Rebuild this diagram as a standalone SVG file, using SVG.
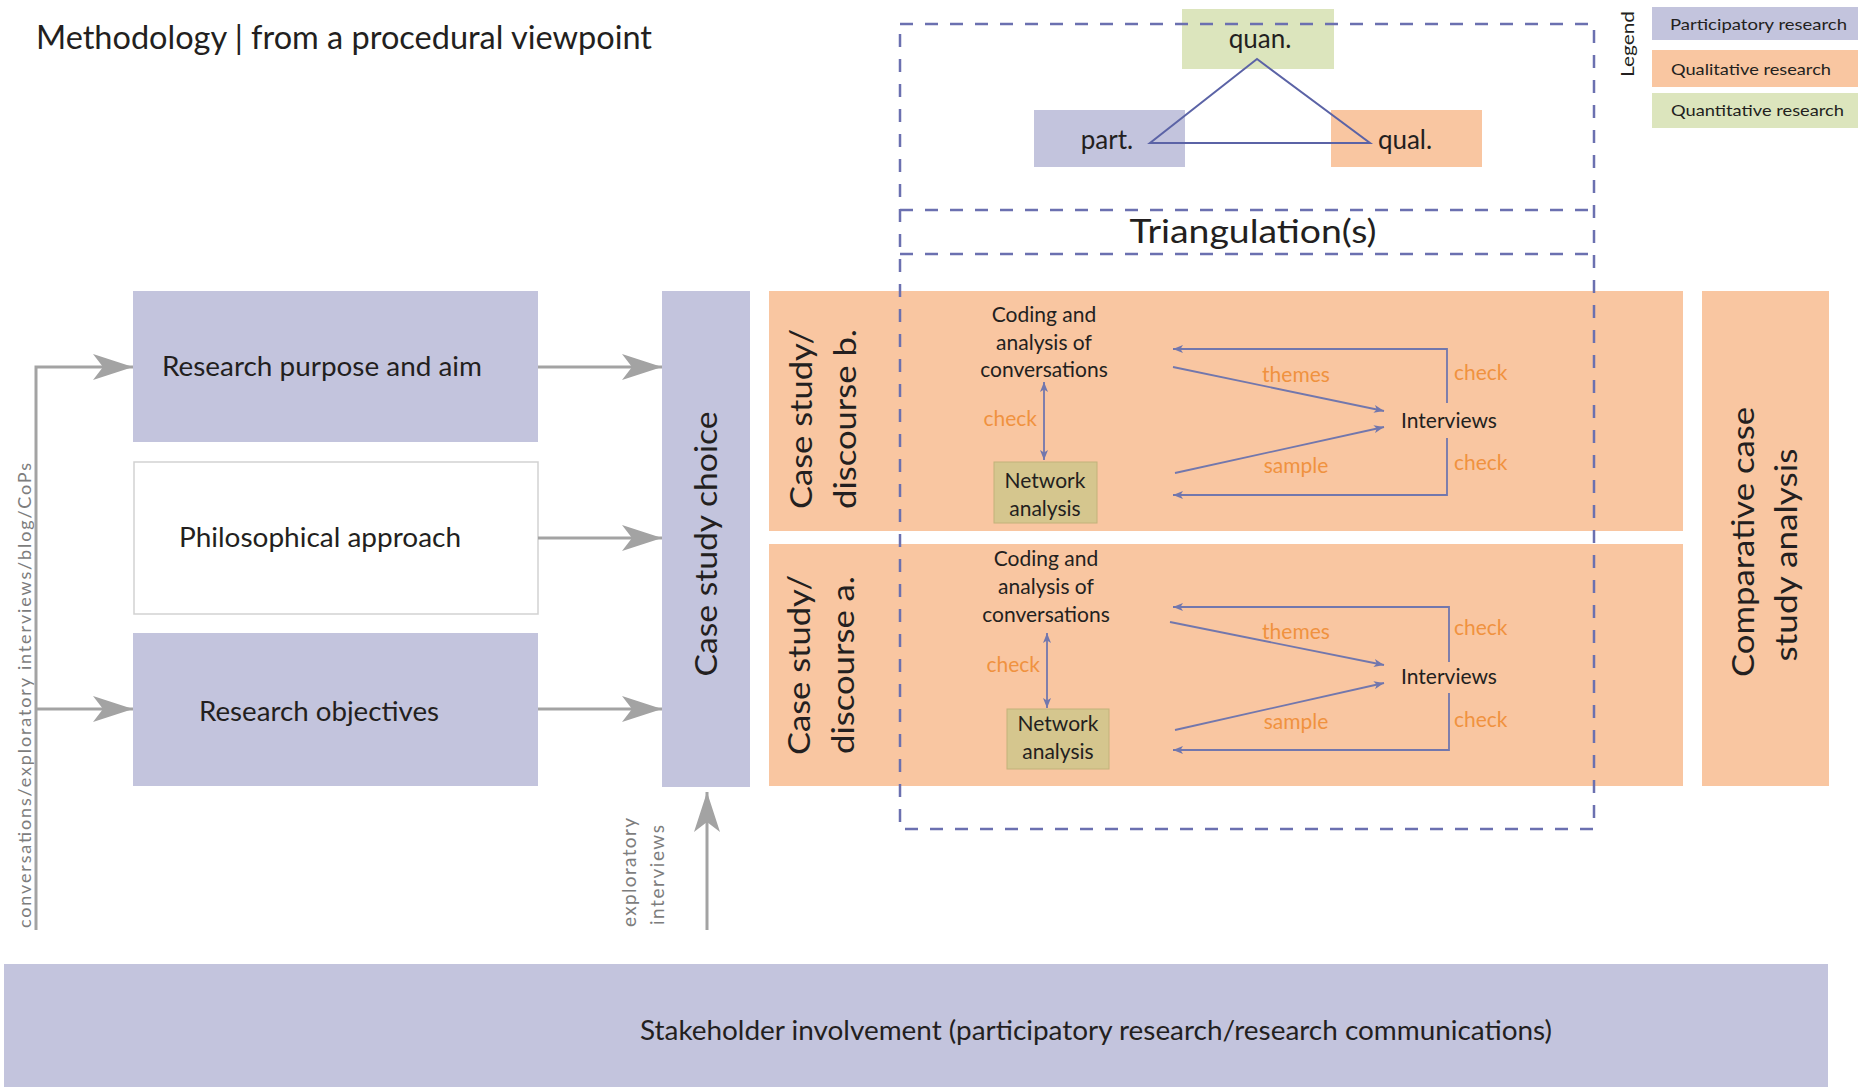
<svg xmlns="http://www.w3.org/2000/svg" width="1861" height="1087" viewBox="0 0 1861 1087">
<style>
text{font-family:Lato,"Open Sans","Liberation Sans",sans-serif;fill:#231f20}
.lav{fill:#c3c4dd}
.pch{fill:#f9c6a1}
.grn{fill:#dce5bd}
.t27{font-size:27px}
.t30{font-size:30px}
.t21{font-size:21px}
.or{fill:#f0923f;font-size:21px}
.gray{stroke:#a3a3a3;stroke-width:3;fill:none}
.blu{stroke:#7277ad;stroke-width:1.8;fill:none}
.dash{stroke:#6b70b0;stroke-width:2.5;fill:none;stroke-dasharray:13 12}
.mid{text-anchor:middle}
</style>
<defs>
<marker id="ga" viewBox="0 0 40 26" refX="40" refY="13" markerWidth="40" markerHeight="26" markerUnits="userSpaceOnUse" orient="auto">
<path d="M0,0 L40,13 L0,26 L10,13 Z" fill="#a3a3a3"/>
</marker>
<marker id="ba" viewBox="0 0 10 8" refX="10" refY="4" markerWidth="11" markerHeight="8" markerUnits="userSpaceOnUse" orient="auto-start-reverse">
<path d="M0,0 L10,4 L0,8 L2.5,4 Z" fill="#7277ad"/>
</marker>
</defs>
<rect width="1861" height="1087" fill="#ffffff"/>

<text x="36" y="49" style="font-size:32px" textLength="616" lengthAdjust="spacingAndGlyphs">Methodology | from a procedural viewpoint</text>

<g id="legend">
<text transform="translate(1634,44) rotate(-90)" class="mid" style="font-size:18px" textLength="66" lengthAdjust="spacingAndGlyphs">Legend</text>
<rect x="1652" y="7" width="206" height="33" class="lav"/>
<rect x="1652" y="50" width="206" height="37" class="pch"/>
<rect x="1652" y="93" width="206" height="35" class="grn"/>
<text x="1670" y="30" style="font-size:16px" textLength="177" lengthAdjust="spacingAndGlyphs">Participatory research</text>
<text x="1671" y="75" style="font-size:16px" textLength="160" lengthAdjust="spacingAndGlyphs">Qualitative research</text>
<text x="1671" y="116" style="font-size:16px" textLength="173" lengthAdjust="spacingAndGlyphs">Quantitative research</text>
</g>

<g id="quan"><rect x="1182" y="9" width="152" height="60" class="grn"/><text x="1260" y="48" class="mid" style="font-size:26px">quan.</text></g>
<g id="part"><rect x="1034" y="110" width="151" height="57" class="lav"/><text x="1107" y="149" class="mid" style="font-size:26px">part.</text></g>
<g id="qual"><rect x="1331" y="110" width="151" height="57" class="pch"/><text x="1405" y="149" class="mid" style="font-size:26px">qual.</text></g>
<polygon id="triangle" points="1257,59 1150,143 1370,143" fill="none" stroke="#5b63a6" stroke-width="2"/>
<text id="triangulation" x="1253" y="243" class="mid" style="font-size:32px" textLength="247" lengthAdjust="spacingAndGlyphs">Triangulation(s)</text>

<g id="research-purpose"><rect x="133" y="291" width="405" height="151" class="lav"/><text x="322" y="376" class="mid t27" textLength="320" lengthAdjust="spacingAndGlyphs">Research purpose and aim</text></g>
<g id="philosophical"><rect x="134" y="462" width="404" height="152" fill="#ffffff" stroke="#d2d2d2" stroke-width="1.5"/><text x="320" y="547" class="mid t27" textLength="282" lengthAdjust="spacingAndGlyphs">Philosophical approach</text></g>
<g id="research-objectives"><rect x="133" y="633" width="405" height="153" class="lav"/><text x="319" y="721" class="mid t27" textLength="240" lengthAdjust="spacingAndGlyphs">Research objectives</text></g>

<g id="case-choice"><rect x="662" y="291" width="88" height="496" class="lav"/><text transform="translate(717,544) rotate(-90)" class="mid t30" textLength="265" lengthAdjust="spacingAndGlyphs">Case study choice</text></g>

<g id="case-b">
<rect x="769" y="291" width="914" height="240" class="pch"/>
<text transform="translate(812,419) rotate(-90)" class="mid t30" textLength="180" lengthAdjust="spacingAndGlyphs">Case study/</text>
<text transform="translate(856,419) rotate(-90)" class="mid t30" textLength="180" lengthAdjust="spacingAndGlyphs">discourse b.</text>
<text x="1044" y="322" class="mid t21">Coding and</text>
<text x="1044" y="350" class="mid t21">analysis of</text>
<text x="1044" y="377" class="mid t21">conversations</text>
<rect x="994" y="462" width="103" height="61" fill="#d5c68e" stroke="#c2b27a" stroke-width="1"/>
<text x="1045" y="488" class="mid t21">Network</text>
<text x="1045" y="516" class="mid t21">analysis</text>
<text x="1449" y="428" class="mid t21">Interviews</text>
<text x="1037" y="426" class="or" text-anchor="end">check</text>
<text x="1454" y="380" class="or">check</text>
<text x="1454" y="470" class="or">check</text>
<text x="1296" y="382" class="or mid">themes</text>
<text x="1296" y="473" class="or mid">sample</text>
</g>

<g id="case-a">
<rect x="769" y="544" width="914" height="242" class="pch"/>
<text transform="translate(810,665) rotate(-90)" class="mid t30" textLength="180" lengthAdjust="spacingAndGlyphs">Case study/</text>
<text transform="translate(854,665) rotate(-90)" class="mid t30" textLength="178" lengthAdjust="spacingAndGlyphs">discourse a.</text>
<text x="1046" y="566" class="mid t21">Coding and</text>
<text x="1046" y="594" class="mid t21">analysis of</text>
<text x="1046" y="622" class="mid t21">conversations</text>
<rect x="1007" y="709" width="102" height="60" fill="#d5c68e" stroke="#c2b27a" stroke-width="1"/>
<text x="1058" y="731" class="mid t21">Network</text>
<text x="1058" y="759" class="mid t21">analysis</text>
<text x="1449" y="684" class="mid t21">Interviews</text>
<text x="1040" y="672" class="or" text-anchor="end">check</text>
<text x="1454" y="635" class="or">check</text>
<text x="1454" y="727" class="or">check</text>
<text x="1296" y="639" class="or mid">themes</text>
<text x="1296" y="729" class="or mid">sample</text>
</g>

<g id="comparative"><rect x="1702" y="291" width="127" height="495" class="pch"/>
<text transform="translate(1754,542) rotate(-90)" class="mid t30" textLength="270" lengthAdjust="spacingAndGlyphs">Comparative case</text>
<text transform="translate(1797,555) rotate(-90)" class="mid t30" textLength="213" lengthAdjust="spacingAndGlyphs">study analysis</text>
</g>

<g id="stakeholder"><rect x="4" y="964" width="1824" height="123" class="lav"/><text x="1096" y="1040" class="mid" style="font-size:26px" textLength="912" lengthAdjust="spacingAndGlyphs">Stakeholder involvement (participatory research/research communications)</text></g>

<text id="left-label" transform="translate(31,928) rotate(-90)" style="font-size:18px;fill:#7d7d7d" textLength="465" lengthAdjust="spacing">conversations/exploratory interviews/blog/CoPs</text>
<text id="expl-1" transform="translate(636,927) rotate(-90)" style="font-size:19px;fill:#7d7d7d" textLength="109" lengthAdjust="spacing">exploratory</text>
<text id="expl-2" transform="translate(664,925) rotate(-90)" style="font-size:19px;fill:#7d7d7d" textLength="100" lengthAdjust="spacing">interviews</text>

<g id="connectors">
<polyline class="gray" points="36,930 36,367 133,367" marker-end="url(#ga)"/>
<line class="gray" x1="36" y1="709" x2="133" y2="709" marker-end="url(#ga)"/>
<line class="gray" x1="538" y1="367" x2="662" y2="367" marker-end="url(#ga)"/>
<line class="gray" x1="538" y1="538" x2="662" y2="538" marker-end="url(#ga)"/>
<line class="gray" x1="538" y1="709" x2="662" y2="709" marker-end="url(#ga)"/>
<line class="gray" x1="707" y1="930" x2="707" y2="792" marker-end="url(#ga)"/>

<line class="blu" x1="1044" y1="382" x2="1044" y2="460" marker-start="url(#ba)" marker-end="url(#ba)"/>
<polyline class="blu" points="1447,403 1447,349 1173,349" marker-end="url(#ba)"/>
<line class="blu" x1="1173" y1="367" x2="1384" y2="411" marker-end="url(#ba)"/>
<line class="blu" x1="1175" y1="473" x2="1384" y2="427" marker-end="url(#ba)"/>
<polyline class="blu" points="1447,438 1447,495 1173,495" marker-end="url(#ba)"/>

<line class="blu" x1="1047" y1="633" x2="1047" y2="708" marker-start="url(#ba)" marker-end="url(#ba)"/>
<polyline class="blu" points="1449,662 1449,607 1173,607" marker-end="url(#ba)"/>
<line class="blu" x1="1170" y1="622" x2="1384" y2="665" marker-end="url(#ba)"/>
<line class="blu" x1="1175" y1="730" x2="1384" y2="683" marker-end="url(#ba)"/>
<polyline class="blu" points="1449,693 1449,750 1173,750" marker-end="url(#ba)"/>
</g>

<g id="triangulation-frame">
<rect x="900" y="24" width="694" height="805" class="dash"/>
<line x1="900" y1="210" x2="1594" y2="210" class="dash"/>
<line x1="900" y1="254" x2="1594" y2="254" class="dash"/>
</g>
</svg>
